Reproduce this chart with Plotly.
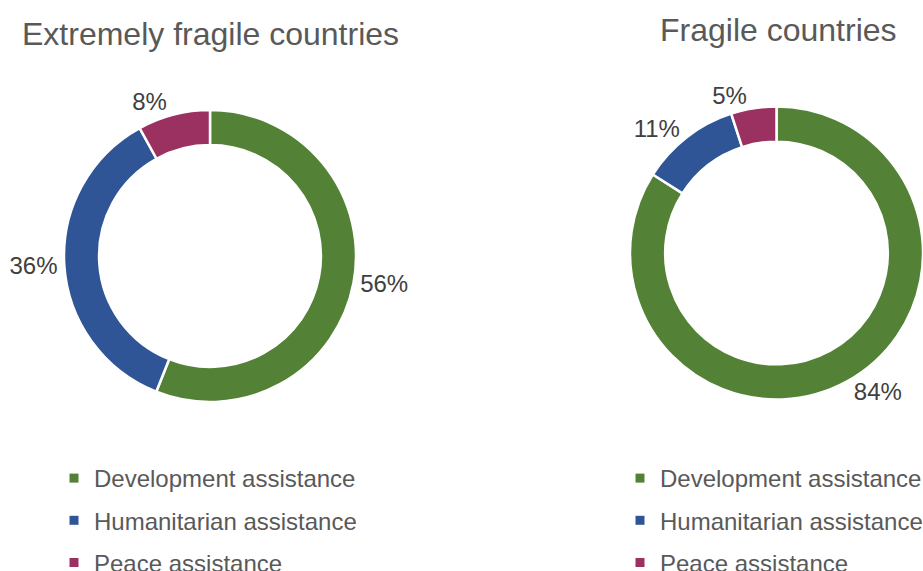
import plotly.graph_objects as go

categories = ["Development assistance", "Humanitarian assistance", "Peace assistance"]
extremely_fragile = [56, 36, 8]
fragile = [84, 11, 5]
titles = ["Extremely fragile countries", "Fragile countries"]
colors = ["#538135", "#2F5597", "#9B3160"]

W, H = 923, 571
FONT = "Liberation Sans, Arial, sans-serif"


def px_x(x):
    return x / W


def px_y(y):
    return 1 - y / H


def dom(cx, cy, r):
    return dict(x=[max(px_x(cx - r), 0.0), min(px_x(cx + r), 1.0)],
                y=[px_y(cy + r), px_y(cy - r)])


fig = go.Figure()
for vals, d, lg in [(extremely_fragile, dom(210, 256, 146), "legend"),
                    (fragile, dom(778, 253, 148), "legend2")]:
    fig.add_trace(go.Pie(
        labels=categories, values=vals, hole=0.76, sort=False,
        direction="clockwise", rotation=0,
        marker=dict(colors=colors, line=dict(color="white", width=2.5)),
        texttemplate="%{value}%", textposition="outside",
        textfont=dict(size=24, color="#404040", family=FONT),
        domain=d, showlegend=False, hoverinfo="label+percent"))
    for i, (cat, col) in enumerate(zip(categories, colors)):
        fig.add_trace(go.Scatter(
            x=[None], y=[None], mode="markers", name=cat,
            marker=dict(symbol="square", size=9, color=col),
            legend=lg, legendgroup=f"{lg}-{i}", showlegend=True))

annotations = [
    dict(text=titles[0], x=px_x(210), y=px_y(34), xref="paper", yref="paper",
         showarrow=False, xanchor="center", yanchor="middle",
         font=dict(size=32, color="#595959", family=FONT)),
    dict(text=titles[1], x=px_x(778), y=px_y(30), xref="paper", yref="paper",
         showarrow=False, xanchor="center", yanchor="middle",
         font=dict(size=32, color="#595959", family=FONT)),
]

leg = dict(font=dict(size=24, color="#595959", family=FONT), bgcolor="rgba(0,0,0,0)",
           yanchor="top", xanchor="left", orientation="v", tracegroupgap=8,
           traceorder="grouped")
fig.update_layout(
    width=W, height=H, paper_bgcolor="white", plot_bgcolor="white",
    margin=dict(l=0, r=0, t=0, b=0, autoexpand=False),
    showlegend=True, dragmode=False,
    xaxis=dict(visible=False), yaxis=dict(visible=False),
    legend=dict(leg, x=px_x(54), y=px_y(456)),
    legend2=dict(leg, x=px_x(620), y=px_y(456)),
    annotations=annotations,
    font=dict(family=FONT),
)
fig.write_html("out.html", config={"displayModeBar": False},
               post_script="document.body.style.margin='0';document.body.style.overflow='hidden';")
